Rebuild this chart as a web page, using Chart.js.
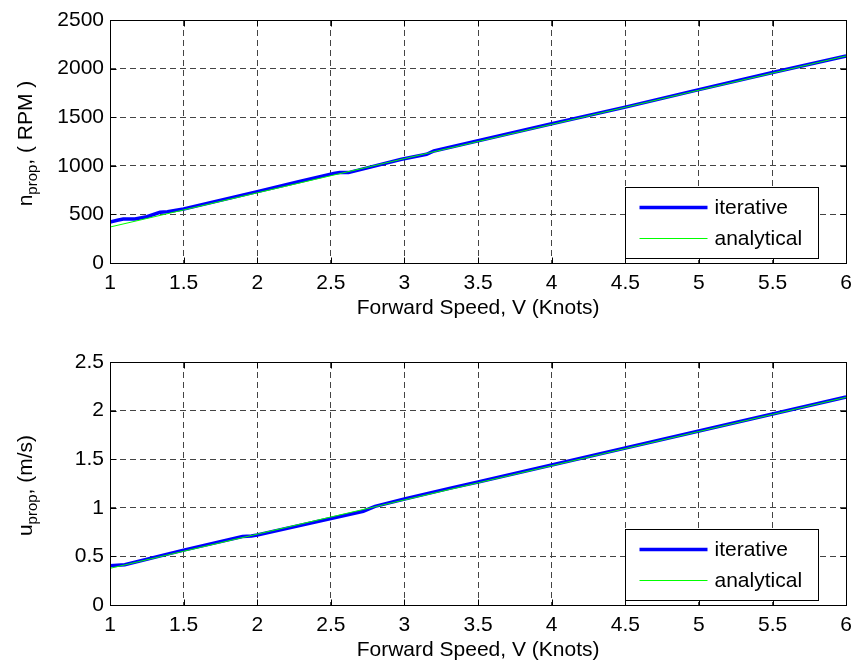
<!DOCTYPE html>
<html>
<head>
<meta charset="utf-8">
<script src="https://cdn.jsdelivr.net/npm/chart.js@4.4.0/dist/chart.umd.min.js"></script>
<style>
  html, body { margin: 0; padding: 0; background: #fff; }
  canvas { display: block; }
</style>
</head>
<body>
<canvas id="chart-rpm" width="860" height="333"></canvas>
<canvas id="chart-vel" width="860" height="333"></canvas>
<script>
// ---- data ----
const xTicks   = [1, 1.5, 2, 2.5, 3, 3.5, 4, 4.5, 5, 5.5, 6];
const rpmTicks = [0, 500, 1000, 1500, 2000, 2500];
const velTicks = [0, 0.5, 1, 1.5, 2, 2.5];

// top panel: propeller speed (RPM)
const speedRpmIter = [1.0, 1.05, 1.09, 1.17, 1.25, 1.34, 1.39, 1.5, 2.0, 2.28, 2.52, 2.56, 2.62, 2.98, 3.15, 3.2, 3.5, 4.0, 4.5, 5.0, 5.5, 6.0];
const rpmIter      = [422, 440, 452, 452, 476, 522, 528, 555, 734, 836, 922, 930, 930, 1068, 1118, 1152, 1258, 1432, 1604, 1784, 1960, 2130];
const speedAnal    = [1, 1.5, 2, 2.5, 3, 3.5, 4, 4.5, 5, 5.5, 6];
const rpmAnal      = [370, 546, 722, 898, 1074, 1250, 1426, 1602, 1778, 1954, 2130];

// bottom panel: propeller inflow velocity (m/s)
const speedVelIter = [1.0, 1.1, 1.5, 1.9, 1.96, 2.0, 2.28, 2.72, 2.8, 3.0, 3.32, 3.5, 4.0, 4.5, 5.0, 5.5, 6.0];
const velIter      = [0.405, 0.415, 0.565, 0.705, 0.71, 0.72, 0.815, 0.965, 1.015, 1.09, 1.205, 1.265, 1.44, 1.615, 1.79, 1.965, 2.14];
const velAnal      = [0.377, 0.553, 0.729, 0.905, 1.081, 1.257, 1.433, 1.609, 1.785, 1.961, 2.137];

const FONT = "'Liberation Sans', Arial, sans-serif";
Chart.defaults.font.family = FONT;
Chart.defaults.font.size = 21;
Chart.defaults.color = '#000';

const pts = (xs, ys) => xs.map((x, i) => ({ x, y: ys[i] }));

// box, inward ticks, legend and axis titles the MATLAB way
const matlabFrame = {
  id: 'matlabFrame',
  afterDatasetsDraw(chart, args, opts) {
    const { ctx, chartArea: a, scales } = chart;
    const L = Math.round(a.left) + 0.5, R = Math.round(a.right) + 0.5;
    const T = Math.round(a.top) + 0.5, B = Math.round(a.bottom) + 0.5;
    ctx.save();
    ctx.setLineDash([]);
    ctx.strokeStyle = '#000';
    ctx.lineWidth = 1;
    ctx.beginPath();
    scales.x.ticks.forEach(t => {
      const px = Math.round(scales.x.getPixelForValue(t.value)) + 0.5;
      ctx.moveTo(px, B); ctx.lineTo(px, B - 6);
      ctx.moveTo(px, T); ctx.lineTo(px, T + 6);
    });
    scales.y.ticks.forEach(t => {
      const py = Math.round(scales.y.getPixelForValue(t.value)) + 0.5;
      ctx.moveTo(L, py); ctx.lineTo(L + 6, py);
      ctx.moveTo(R, py); ctx.lineTo(R - 6, py);
    });
    ctx.stroke();
    ctx.strokeRect(L, T, R - L, B - T);

    // legend
    const bw = 193, bh = 71;
    const bx = Math.round(a.right - 28 - bw) + 0.5, by = Math.round(a.bottom - 5 - bh) + 0.5;
    ctx.fillStyle = '#fff';
    ctx.fillRect(bx, by, bw, bh);
    ctx.strokeRect(bx, by, bw, bh);
    const rows = [chart.data.datasets[1], chart.data.datasets[0]];
    rows.forEach((ds, i) => {
      const y = by + 20 + i * 31;
      ctx.strokeStyle = ds.borderColor;
      ctx.lineWidth = ds.borderWidth;
      ctx.beginPath();
      ctx.moveTo(bx + 14, y); ctx.lineTo(bx + 82, y);
      ctx.stroke();
      ctx.fillStyle = '#000';
      ctx.font = '21px ' + FONT;
      ctx.textBaseline = 'middle';
      ctx.textAlign = 'left';
      ctx.fillText(ds.label, bx + 89, y + 1);
    });

    // x title
    ctx.fillStyle = '#000';
    ctx.font = '21px ' + FONT;
    ctx.textAlign = 'center';
    ctx.textBaseline = 'middle';
    ctx.fillText(opts.xTitle, (a.left + a.right) / 2, a.bottom + 45);

    // y title with subscript
    const main = '21px ' + FONT, sub = '15px ' + FONT;
    ctx.font = main; const w1 = ctx.measureText(opts.yMain).width;
    const w3 = ctx.measureText(opts.yRest).width;
    ctx.font = sub; const w2 = ctx.measureText(opts.ySub).width;
    const total = w1 + w2 + w3;
    ctx.translate(32, (a.top + a.bottom) / 2 + 2);
    ctx.rotate(-Math.PI / 2);
    ctx.textAlign = 'left';
    ctx.textBaseline = 'alphabetic';
    let x = -total / 2;
    ctx.font = main; ctx.fillText(opts.yMain, x, 0); x += w1;
    ctx.font = sub;  ctx.fillText(opts.ySub, x, 5); x += w2;
    ctx.font = main; ctx.fillText(opts.yRest, x, 0);
    ctx.restore();
  }
};

function makePanel(id, iterPts, analPts, yTicks, yMax, padTop, xHeight, titles) {
  return new Chart(document.getElementById(id), {
    type: 'line',
    data: {
      datasets: [
        { label: 'analytical', data: analPts, borderColor: '#00ff00', borderWidth: 1, pointRadius: 0, tension: 0, order: 0 },
        { label: 'iterative', data: iterPts, borderColor: '#0000ff', borderWidth: 3.5, pointRadius: 0, tension: 0, order: 1 }
      ]
    },
    options: {
      responsive: false,
      animation: false,
      events: [],
      layout: { padding: { top: padTop, right: 10, left: 0, bottom: 0 } },
      plugins: { legend: { display: false }, tooltip: { enabled: false }, matlabFrame: titles },
      scales: {
        x: {
          type: 'linear', min: 1, max: 6,
          afterBuildTicks: s => { s.ticks = xTicks.map(v => ({ value: v })); },
          afterFit: s => { s.height = xHeight; },
          ticks: { padding: 8, maxRotation: 0, autoSkip: false, callback: v => String(v) },
          grid: { color: '#444', lineWidth: 1, drawTicks: false },
          border: { display: false, dash: [6, 4] }
        },
        y: {
          type: 'linear', min: 0, max: yMax,
          afterBuildTicks: s => { s.ticks = yTicks.map(v => ({ value: v })); },
          afterFit: s => { s.width = 110; },
          ticks: { padding: 6, autoSkip: false, callback: v => String(v) },
          grid: { color: '#444', lineWidth: 1, drawTicks: false },
          border: { display: false, dash: [6, 4] }
        }
      }
    },
    plugins: [matlabFrame]
  });
}

makePanel('chart-rpm', pts(speedRpmIter, rpmIter), pts(speedAnal, rpmAnal), rpmTicks, 2500, 20, 70,
  { xTitle: 'Forward Speed, V (Knots)', yMain: 'n', ySub: 'prop', yRest: ', ( RPM )' });
makePanel('chart-vel', pts(speedVelIter, velIter), pts(speedAnal, velAnal), velTicks, 2.5, 29, 61,
  { xTitle: 'Forward Speed, V (Knots)', yMain: 'u', ySub: 'prop', yRest: ', (m/s)' });
</script>
</body>
</html>
